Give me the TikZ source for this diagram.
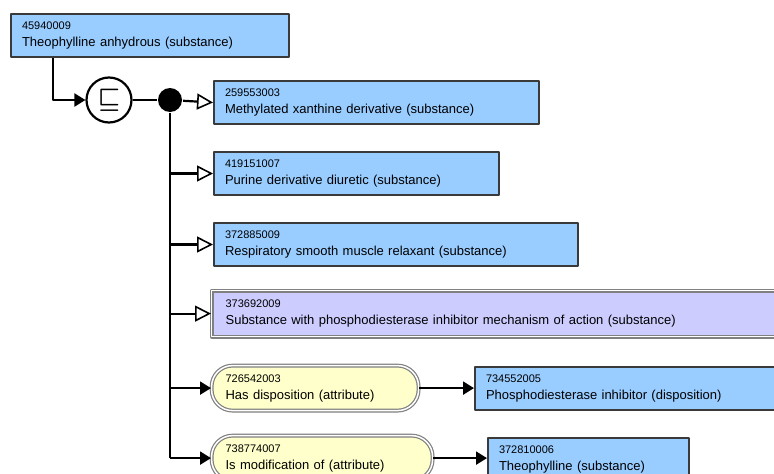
\documentclass[tikz,border=0pt]{standalone}
\usepackage{fontspec}
\setmainfont{Liberation Sans}
\usetikzlibrary{arrows.meta}
\definecolor{subblue}{HTML}{99CCFF}
\definecolor{defpurple}{HTML}{CCCCFF}
\definecolor{attyellow}{HTML}{FFFFCC}
\definecolor{edgegray}{HTML}{3A3A3A}
\begin{document}
\begin{tikzpicture}[x=1pt, y=-1pt, line width=2.2pt, line join=round,
	concept/.style={draw=edgegray, line width=2pt, fill=subblue, anchor=north west, minimum height=43pt, inner xsep=11pt, inner ysep=0pt, align=left, font=\fontsize{13}{17}\selectfont},
	defined/.style={concept, fill=defpurple, draw=gray, line width=1.2pt, double=white, double distance=1.5pt, minimum height=46pt, inner xsep=14pt},
	attr/.style={concept, fill=attyellow, draw=gray, line width=1.2pt, double=white, double distance=1.5pt, rounded corners=21pt, minimum height=45pt, inner xsep=14pt},
	isa/.style={-{Triangle[open, length=16pt, width=16pt, fill=white, line width=1.6pt]}},
	rel/.style={-{Triangle[length=11pt, width=13pt]}}]
	% KHUNG HÌNH
	\useasboundingbox (0,0) rectangle (774,474);
	\clip (0,0) rectangle (774,474);
	
	% KHÁI NIỆM GỐC
	\node[concept, text width=256pt] (b1) at (10,13) {{\fontsize{11}{17}\selectfont 45940009}\\Theophylline anhydrous (substance)};
	\node[draw, circle, fill=white, minimum size=45pt, inner sep=0pt, font=\fontsize{24}{24}\selectfont\boldmath] (subs) at (109,100) {$\sqsubseteq$};
	\node[circle, fill, minimum size=24pt, inner sep=0pt] (conj) at (170,100) {};
	
	% CÁC KHÁI NIỆM CHA
	\foreach \n/\x/\y/\w/\id/\txt in {c1/213/80/325/259553003/Methylated xanthine derivative (substance),
		c2/213/151/285/419151007/Purine derivative diuretic (substance),
		c3/213/222/364/372885009/Respiratory smooth muscle relaxant (substance),
		v1/474/366/330/734552005/Phosphodiesterase inhibitor (disposition),
		v2/487/437/201/372810006/Theophylline (substance)} {
		\pgfmathsetmacro\tw{\w-22}
		\node[concept, text width=\tw pt] (\n) at (\x,\y) {{\fontsize{11}{17}\selectfont\id}\\\txt};
	}
	\node[defined, text width=600pt] (c4) at (211,290) {{\fontsize{11}{17}\selectfont 373692009}\\Substance with phosphodiesterase inhibitor mechanism of action (substance)};
	
	% THUỘC TÍNH
	\node[attr, text width=179pt] (p1) at (211,365) {{\fontsize{11}{17}\selectfont 726542003}\\Has disposition (attribute)};
	\node[attr, text width=193pt] (p2) at (211,435) {{\fontsize{11}{17}\selectfont 738774007}\\Is modification of (attribute)};
	
	% NỐI
	\draw[rel] (b1.south west) ++(43,0) |- (subs.west);
	\draw (subs.east) -- (conj);
	\draw (conj) -- (conj |- p2.west);
	\draw[isa] (conj) -- (c1.west);
	\foreach \n in {c2,c3,c4} \draw[isa] (conj |- \n.west) -- (\n.west);
	\foreach \n in {p1,p2} \draw[rel] (conj |- \n.west) -- (\n.west);
	\draw[rel] (p1.east) -- (p1.east -| v1.west);
	\draw[rel] (p2.east) -- (p2.east -| v2.west);
\end{tikzpicture}
\end{document}
